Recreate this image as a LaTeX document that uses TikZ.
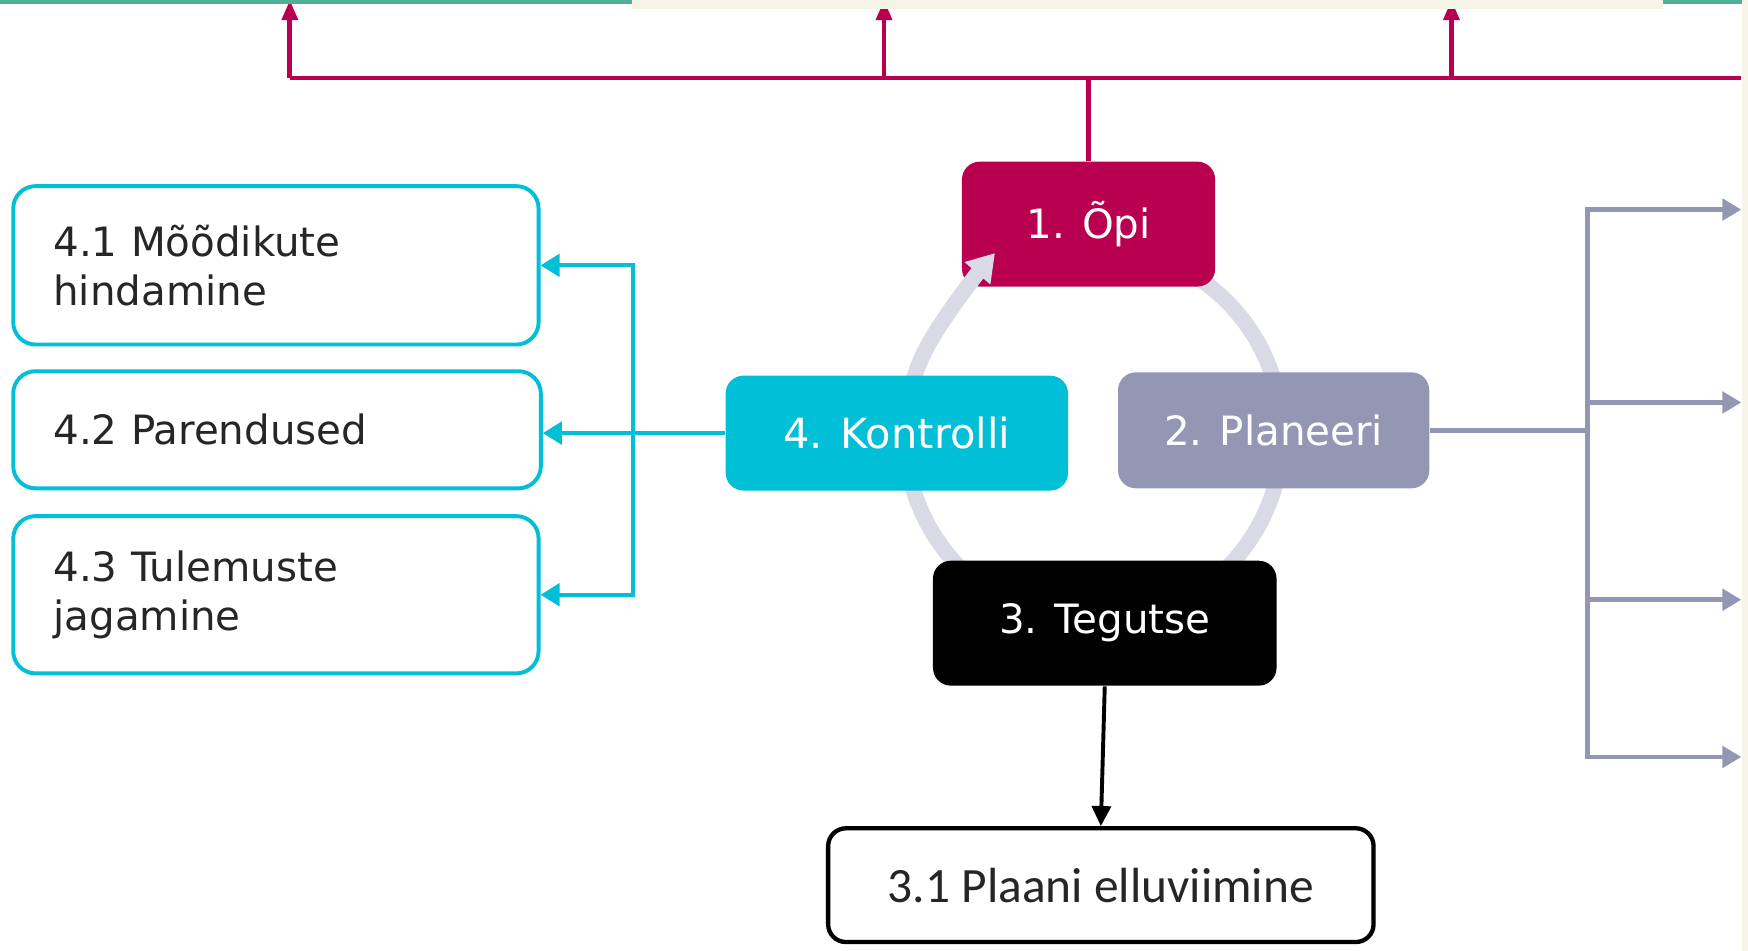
\documentclass[tikz,border=0pt]{standalone}
\usepackage{fontspec}
\setmainfont{DejaVu Sans}
\newfontfamily\carlito{Carlito}
\usetikzlibrary{arrows.meta}

\definecolor{opimag}{RGB}{185,0,80}
\definecolor{kontcyan}{RGB}{0,191,214}
\definecolor{planhall}{RGB}{148,151,180}
\definecolor{ringhall}{RGB}{217,218,229}
\definecolor{stripteal}{RGB}{78,176,148}
\definecolor{stripcream}{RGB}{246,244,230}

\tikzset{
	phasebox/.style={rounded corners=0.16cm, inner sep=0pt, text=white,
		font=\fontsize{10.3}{12.5}\selectfont},
	subbox/.style={draw=kontcyan, line width=1pt, fill=white, rounded corners=0.2cm,
		inner xsep=0.36cm, inner ysep=0pt, align=left, text=black!85,
		font=\fontsize{10.3}{12.5}\selectfont},
	magline/.style={opimag, line width=1.2pt},
	maghead/.style={magline, -{Triangle[length=1.8mm, width=1.4mm]}},
	cyhead/.style={kontcyan, line width=1pt, -{Triangle[length=1.7mm, width=2mm]}},
	grline/.style={planhall, line width=1.2pt},
	grhead/.style={grline, -{Triangle[length=1.7mm, width=1.9mm]}},
	ringline/.style={ringhall, line width=4pt},
	ringhead/.style={ringline, -{Triangle[length=2.4mm, width=2.9mm]}}
}

\begin{document}
\begin{tikzpicture}[x=0.01cm, y=-0.01cm]
			%%%%% START %%%%%
			
			\fill[white] (0, 0) rectangle (1568, 853);
			\useasboundingbox (0, 0) rectangle (1568, 853);
			
			% ring behind the phases, its head over the first one
			\draw[ringline] (981, 390) ++(-60:169) arc (-60:206:169);
			\node[phasebox, fill=opimag, minimum width=2.27cm, minimum height=1.12cm] (opi) at (976.5, 201) {1. Õpi};
			\coordinate (ringend) at (827.8, 318.6);
			\coordinate (ringtip) at (892.5, 227);
			\draw[ringhead] (ringend) .. controls (840.5, 291.4) and (876.1, 245.9) .. (ringtip);
			
			% the other phases
			\node[phasebox, fill=kontcyan, minimum width=3.07cm, minimum height=1.03cm,
				font=\fontsize{10.6}{12.5}\selectfont] (kontrolli) at (804.5, 388.5) {4. Kontrolli};
			\node[phasebox, fill=planhall, minimum width=2.79cm, minimum height=1.04cm] (planeeri) at (1142.5, 386) {2. Planeeri};
			\node[phasebox, fill=black, minimum width=3.08cm, minimum height=1.12cm] (tegutse) at (991, 559) {3. Tegutse};
			
			% sub steps
			\node[subbox, text width=3.99cm, minimum height=1.42cm] (m41) at (247.5, 238) {4.1 Mõõdikute\\hindamine};
			\node[subbox, text width=4.01cm, minimum height=1.05cm] (m42) at (248.5, 385.5) {4.2 Parendused};
			\node[subbox, text width=3.99cm, minimum height=1.41cm] (m43) at (247.5, 533.5) {4.3 Tulemuste\\jagamine};
			\node[draw=black, line width=1.1pt, fill=white, rounded corners=0.16cm, inner sep=0pt,
				minimum width=4.89cm, minimum height=1.02cm, text=black!85,
				font=\carlito\fontsize{12.6}{14}\selectfont] (plaan) at (987.5, 794) {3.1 Plaani elluviimine};
			
			% magenta bus on top
			\coordinate (busL) at (260, 70);
			\coordinate (busR) at (1562, 70);
			\coordinate (upA) at (260, 0);
			\coordinate (upB) at (793, 0);
			\coordinate (upC) at (1302, 0);
			\draw[magline] (busL) -- (busR);
			\draw[magline] (opi.north) -- (opi.north |- busL);
			\draw[maghead] (busL) -- (upA);
			\draw[maghead] (upB |- busL) -- (upB);
			\draw[maghead] (upC |- busL) -- (upC);
			
			% cyan bus on the left
			\coordinate (cyjoin) at (568, 388.5);
			\draw[cyhead] (kontrolli.west) -- (kontrolli.west -| m42.east);
			\draw[cyhead] (cyjoin) |- (m41.east);
			\draw[cyhead] (cyjoin) |- (m43.east);
			
			% grey bus on the right
			\coordinate (grjoin) at (1424, 386);
			\coordinate (outA) at (1562, 188);
			\coordinate (outB) at (1562, 361);
			\coordinate (outC) at (1562, 538);
			\coordinate (outD) at (1562, 679);
			\draw[grline] (planeeri.east) -- (grjoin);
			\draw[grhead] (grjoin) |- (outA);
			\draw[grhead] (grjoin) |- (outB);
			\draw[grhead] (grjoin) |- (outC);
			\draw[grhead] (grjoin) |- (outD);
			
			\draw[-{Triangle[length=1.8mm, width=1.7mm]}, line width=1pt] (tegutse.south) -- (plaan.north);
			
			% cut edges of the neighbouring shapes
			\fill[stripteal] (0, 0) rectangle (567, 4);
			\fill[stripcream] (567, 0) rectangle (1492, 8);
			\fill[stripteal] (1492, 0) rectangle (1563, 4);
			\fill[stripcream] (1563, 0) rectangle (1568, 853);
			
			%%%%% END %%%%%
		\end{tikzpicture}
\end{document}
